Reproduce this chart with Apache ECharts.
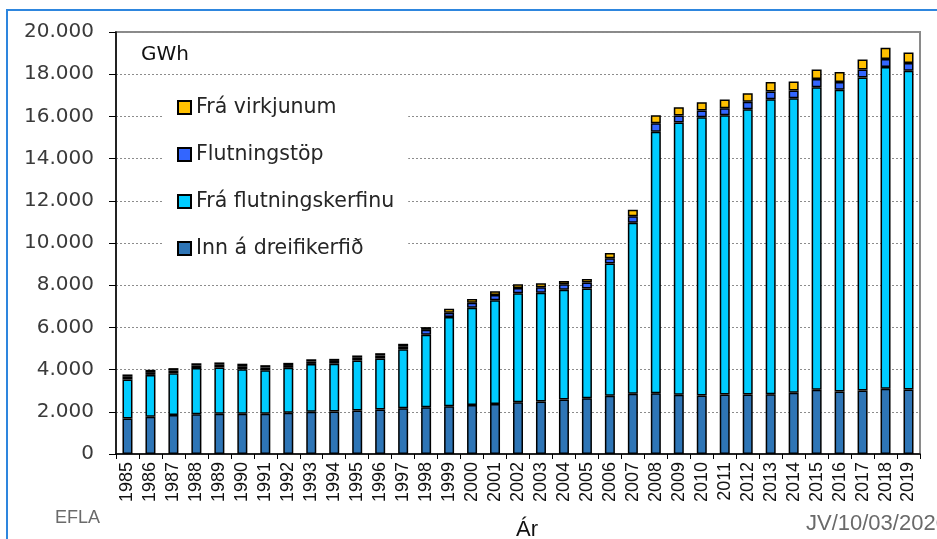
<!DOCTYPE html>
<html>
<head>
<meta charset="utf-8">
<script src="https://cdn.jsdelivr.net/npm/echarts@6/dist/echarts.min.js"></script>
<style>
  html, body { margin: 0; padding: 0; background: #fff; }
  #chart { width: 937px; height: 539px; }
</style>
</head>
<body>
<div id="chart"></div>
<script>
const years = ['1985','1986','1987','1988','1989','1990','1991','1992','1993','1994','1995','1996','1997','1998','1999','2000','2001','2002','2003','2004','2005','2006','2007','2008','2009','2010','2011','2012','2013','2014','2015','2016','2017','2018','2019'];
const innADreifikerfid = [1680,1770,1850,1880,1910,1910,1910,1960,2000,2010,2057,2105,2168,2216,2263,2328,2375,2451,2485,2580,2641,2755,2850,2879,2803,2770,2817,2817,2830,2897,3040,2960,3007,3088,3055];
const fraFlutningskerfinu = [1850,1980,1980,2190,2190,2110,2060,2125,2270,2270,2375,2420,2800,3437,4226,4608,4908,5164,5163,5210,5197,6271,8105,12399,12902,13192,13240,13523,13987,13968,14347,14299,14836,15249,15107];
const flutningstop = [130,130,130,130,130,140,130,130,120,130,130,140,140,230,200,230,250,250,260,250,286,252,318,399,333,314,333,360,363,361,380,366,380,380,365];
const fraVirkjunum = [110,110,110,100,110,120,110,105,100,100,108,113,115,130,200,180,177,178,182,160,171,252,299,380,399,399,408,400,445,428,456,475,477,537,504];
const yTickLabels = ['0','2.000','4.000','6.000','8.000','10.000','12.000','14.000','16.000','18.000','20.000'];

const seriesNames = ['Inn á dreifikerfið','Frá flutningskerfinu','Flutningstöp','Frá virkjunum'];
const seriesData = [innADreifikerfid, fraFlutningskerfinu, flutningstop, fraVirkjunum];
const seriesColors = ['#2E75B6','#00CCFF','#3366FF','#FFC000'];

const chart = echarts.init(document.getElementById('chart'), null, {renderer: 'canvas'});

const series = seriesNames.map((name, i) => ({
  name: name,
  type: 'bar',
  stack: 'total',
  barWidth: 10,
  data: seriesData[i],
  itemStyle: { color: seriesColors[i], borderColor: '#000', borderWidth: 1.5 },
  emphasis: { disabled: true }
}));

chart.setOption({
  animation: false,
  backgroundColor: '#fff',
  grid: { left: 116, right: 17, top: 32, bottom: 85, show: true, borderColor: '#8a8a8a', borderWidth: 2, backgroundColor: 'transparent' },
  legend: {
    data: ['Frá virkjunum','Flutningstöp','Frá flutningskerfinu','Inn á dreifikerfið'],
    orient: 'vertical',
    left: 162,
    top: 85,
    padding: [12, 14, 12, 15],
    itemGap: 26,
    itemWidth: 13,
    itemHeight: 13,
    backgroundColor: '#fff',
    icon: 'rect',
    selectedMode: false,
    textStyle: { fontFamily: 'DejaVu Sans', fontSize: 20.5, color: '#262626', lineHeight: 20 }
  },
  xAxis: {
    type: 'category',
    data: years,
    axisLine: { lineStyle: { color: '#000', width: 1.5 } },
    axisTick: { show: true, length: 5, lineStyle: { color: '#000', width: 1 } },
    axisLabel: { rotate: 90, interval: 0, margin: 8, fontSize: 18, fontFamily: 'Liberation Sans', color: '#111' },
    splitLine: { show: false }
  },
  yAxis: {
    type: 'value',
    min: 0, max: 20000, interval: 2000,
    axisLine: { show: true, lineStyle: { color: '#000', width: 1.5 } },
    axisTick: { show: true, length: 7, lineStyle: { color: '#000', width: 1 } },
    axisLabel: {
      margin: 22, fontFamily: 'DejaVu Sans', fontSize: 20, color: '#3a3a3a',
      formatter: v => yTickLabels[Math.round(v / 2000)]
    },
    splitLine: { show: true, lineStyle: { color: '#8c8c8c', width: 1, type: [2, 2] } }
  },
  graphic: [
    { type: 'rect', silent: true, z: 100, shape: { x: 7, y: 10, width: 960, height: 560 }, style: { fill: 'none', stroke: '#2E86DE', lineWidth: 2 } },
    { type: 'text', silent: true, z: 100, left: 141, top: 45, style: { text: 'GWh', fontFamily: 'DejaVu Sans', fontSize: 20, fill: '#111' } },
    { type: 'text', silent: true, z: 100, x: 55, y: 518, style: { text: 'EFLA', fontFamily: 'Liberation Sans', fontSize: 18, fill: '#6a6a6a', verticalAlign: 'middle' } },
    { type: 'text', silent: true, z: 100, x: 527, y: 530, style: { text: 'Ár', fontFamily: 'Liberation Sans', fontSize: 22, fill: '#111', align: 'center', verticalAlign: 'middle' } },
    { type: 'text', silent: true, z: 100, x: 806, y: 524, style: { text: 'JV/10/03/2020', fontFamily: 'Liberation Sans', fontSize: 22, fill: '#6a6a6a', verticalAlign: 'middle' } }
  ],
  series: series
});
</script>
</body>
</html>
